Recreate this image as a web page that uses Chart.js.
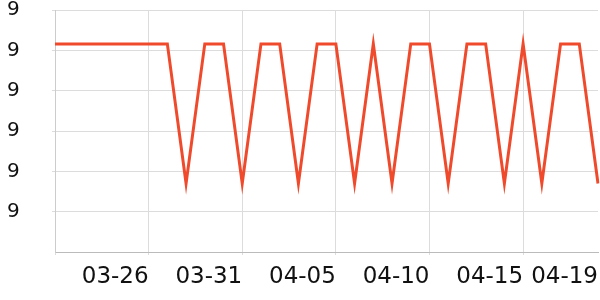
<!DOCTYPE html>
<html>
<head>
<meta charset="utf-8">
<script src="https://cdn.jsdelivr.net/npm/chart.js@4"></script>
<style>
html,body{margin:0;padding:0;background:#fff;}
#wrap{width:600px;height:300px;}
</style>
</head>
<body>
<div id="wrap"><canvas id="c" width="600" height="300"></canvas></div>
<script>
const categories = ['03-21','03-22','03-23','03-24','03-25','03-26','03-27','03-28','03-29','03-30','03-31',
  '04-01','04-02','04-03','04-04','04-05','04-06','04-07','04-08','04-09','04-10',
  '04-11','04-12','04-13','04-14','04-15','04-16','04-17','04-18','04-19'];
const seriesValues = [9.0516,9.0516,9.0516,9.0516,9.0516,9.0516,9.0516,9.017,9.0516,9.0516,9.017,
  9.0516,9.0516,9.017,9.0516,9.0516,9.017,9.0516,9.017,9.0516,9.0516,
  9.017,9.0516,9.0516,9.017,9.0516,9.017,9.0516,9.0516,9.017];
const xTickLabels = ['03-21','03-26','03-31','04-05','04-10','04-15','04-19'];
const xTickShown = ['','03-26','03-31','04-05','04-10','04-15','04-19'];
const yTickValues = [9.00,9.01,9.02,9.03,9.04,9.05,9.06];
const yTickLabels = ['','9','9','9','9','9','9'];

new Chart(document.getElementById('c'), {
  type: 'line',
  data: {
    labels: categories,
    datasets: [{
      data: seriesValues,
      borderColor: '#f04a2c',
      borderWidth: 3,
      pointRadius: 0,
      tension: 0,
      fill: false
    }]
  },
  options: {
    responsive: false,
    animation: false,
    layout: {padding: {left: 7, right: 2, top: 0, bottom: 4}},
    plugins: {legend: {display: false}, tooltip: {enabled: false}},
    scales: {
      x: {
        afterBuildTicks: (scale) => {
          scale.ticks = scale.ticks.filter(t => xTickLabels.includes(categories[t.value]));
        },
        afterFit: (scale) => {
          scale.height = 44;
          scale.paddingLeft = 0;
          scale.paddingRight = 0;
        },
        ticks: {
          autoSkip: false,
          maxRotation: 0,
          align: 'end',
          padding: 8,
          color: '#111',
          font: {family: 'DejaVu Sans', size: 23},
          callback: function(v, i) { return xTickShown[i]; }
        },
        grid: {
          color: (ctx) => (ctx.index === xTickLabels.length - 1 ? 'rgba(0,0,0,0)' : '#dcdcdc'),
          tickLength: 3
        },
        border: {color: '#bbbbbb', width: 1}
      },
      y: {
        min: yTickValues[0],
        max: yTickValues[yTickValues.length - 1],
        afterBuildTicks: (scale) => {
          scale.ticks = yTickValues.map(v => ({value: v}));
        },
        afterFit: (scale) => {
          scale.width = 48;
          scale.paddingTop = 10;
          scale.paddingBottom = 0;
        },
        ticks: {
          padding: 3,
          crossAlign: 'far',
          color: '#111',
          font: {family: 'DejaVu Sans', size: 20},
          callback: function(v, i) { return yTickLabels[i]; }
        },
        grid: {
          color: (ctx) => (ctx.index === 0 ? 'rgba(0,0,0,0)' : '#dcdcdc'),
          tickLength: 3
        },
        border: {color: '#cccccc', width: 1}
      }
    }
  }
});
</script>
</body>
</html>
